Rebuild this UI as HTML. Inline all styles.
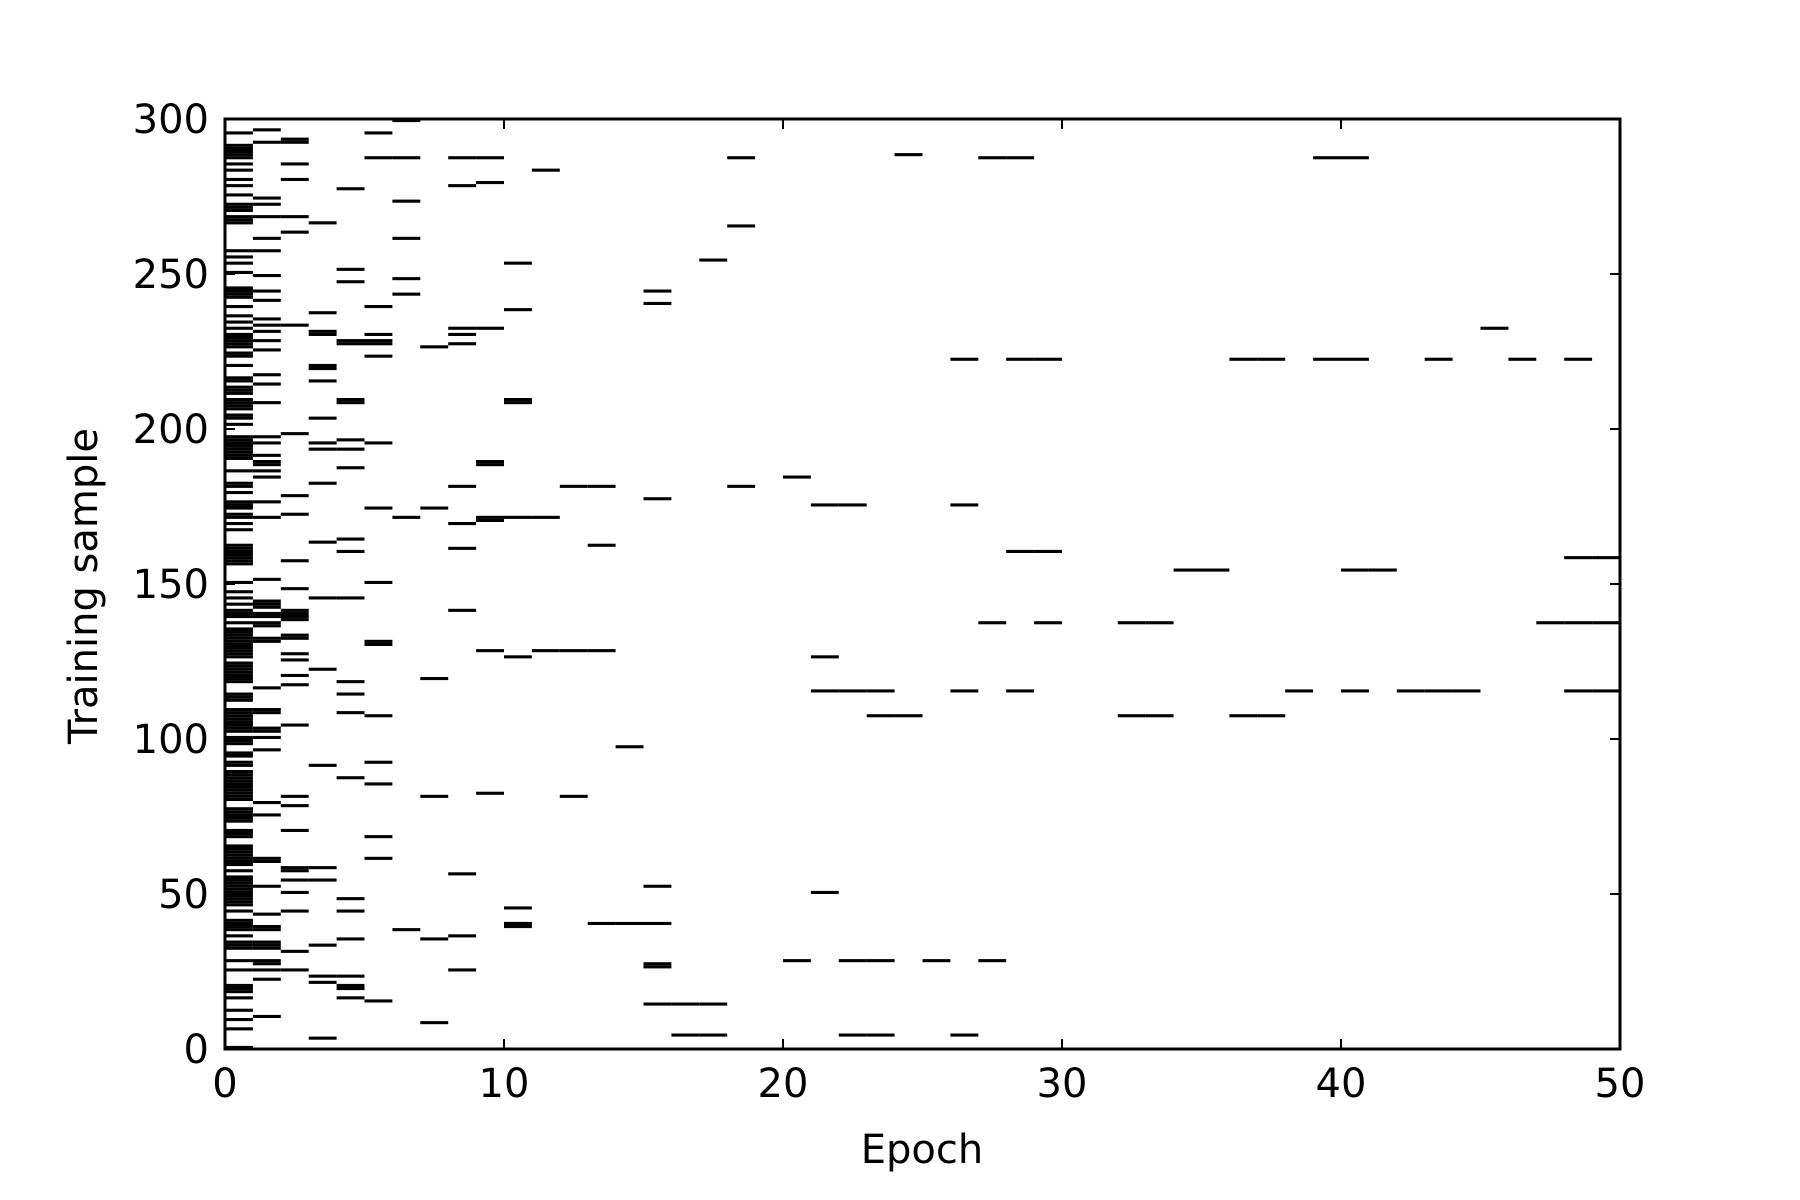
<!DOCTYPE html>
<html><head><meta charset="utf-8"><style>
html,body{margin:0;padding:0;background:#fff;}
svg{display:block;}
text{font-family:"DejaVu Sans","Liberation Sans",sans-serif;fill:#000;}
</style></head><body>
<svg id="chart" width="1800" height="1200" viewBox="0 0 1800 1200" xmlns="http://www.w3.org/2000/svg">
<rect width="1800" height="1200" fill="#fff"/>
<g id="cells"></g>
<g id="axes"></g>
<text x="922" y="1163" font-size="40" text-anchor="middle">Epoch</text>
<text x="0" y="0" font-size="40" text-anchor="middle" transform="translate(97,586) rotate(-90)">Training sample</text>
</svg>
<script>
const epochs = [];
for (let i = 0; i < 50; i++) epochs.push(i);
const samplesByEpoch = [
[295,287,288,289,290,291,285,283,280,278,275,270,271,272,266,267,268,257,255,253,250,242,243,244,245,239,236,234,232,226,227,228,229,230,224,223,220,216,215,211,212,213,207,208,209,206,204,203,201,190,191,192,193,194,195,196,197,186,181,182,179,174,175,176,172,171,169,167,160,161,162,157,158,159,156,150,147,143,141,139,137,134,132,130,128,145,140,135,133,126,127,129,131,121,122,123,124,118,119,120,113,114,112,103,104,105,106,107,108,109,102,98,99,100,94,95,91,92,83,84,85,86,87,88,89,80,81,82,73,74,75,76,77,68,69,70,62,63,64,65,59,60,61,57,55,51,52,53,54,46,47,48,49,50,44,41,38,39,40,36,32,33,34,28,25,18,19,20,16,12,9,6,0],
[296,292,274,272,268,261,257,249,244,241,235,233,231,228,225,217,214,208,197,195,191,188,189,186,184,176,171,151,143,139,136,131,144,142,140,137,132,116,108,109,102,103,100,96,79,75,60,61,52,43,39,38,33,34,32,27,28,25,22,10],
[292,293,285,280,268,263,233,198,178,172,157,148,138,139,132,140,141,133,127,125,120,117,104,81,78,70,57,58,54,50,44,31,25],
[266,237,230,231,219,220,215,203,195,193,182,163,145,122,91,58,54,33,23,21,3],
[277,251,247,228,227,208,209,196,193,187,164,160,145,118,114,108,87,48,44,35,23,19,20,16],
[295,287,239,230,227,228,223,195,174,150,130,131,107,92,85,68,61,15],
[299,287,273,261,248,243,171,38],
[226,174,119,81,35,8],
[287,278,232,230,227,181,169,161,141,56,36,25],
[287,279,232,188,189,170,171,128,82],
[253,238,208,209,171,126,45,39,40],
[283,171,128],
[181,128,81],
[181,162,128,40],
[97,40],
[244,240,177,52,40,26,27,14],
[14,4],
[254,14,4],
[287,265,181],
[],
[184,28],
[175,126,115,50],
[175,115,28,4],
[115,107,28,4],
[288,107],
[28],
[222,175,115,4],
[287,137,28],
[287,222,160,115],
[222,160,137],
[],
[],
[137,107],
[137,107],
[154],
[154],
[222,107],
[222,107],
[115],
[287,222],
[287,222,154,115],
[154],
[115],
[222,115],
[115],
[232],
[222],
[137],
[222,158,137,115],
[158,137,115]
];
const xTicks = [0,10,20,30,40,50];
const yTicks = [0,50,100,150,200,250,300];

const L=225, R=1620, T=119, B=1049;
const xMax=50, yMax=300;
function xs(v){return L+(v/xMax)*(R-L);}
function ys(v){return B-(v/yMax)*(B-T);}
const NS="http://www.w3.org/2000/svg";
const cells=document.getElementById('cells');
epochs.forEach(function(e){
  (samplesByEpoch[e]||[]).forEach(function(s){
    const r=document.createElementNS(NS,'rect');
    r.setAttribute('x',xs(e));
    r.setAttribute('y',ys(s+1));
    r.setAttribute('width',xs(e+1)-xs(e));
    r.setAttribute('height',ys(s)-ys(s+1));
    r.setAttribute('fill','#000');
    
    
    cells.appendChild(r);
  });
});
const axes=document.getElementById('axes');
function line(x1,y1,x2,y2,w,name){
  const l=document.createElementNS(NS,'line');
  l.setAttribute('x1',x1);l.setAttribute('y1',y1);l.setAttribute('x2',x2);l.setAttribute('y2',y2);
  l.setAttribute('stroke','#000');l.setAttribute('stroke-width',w);
  
  
  axes.appendChild(l);
}
function text(x,y,str,anchor,name){
  const t=document.createElementNS(NS,'text');
  t.setAttribute('x',x);t.setAttribute('y',y);t.setAttribute('font-size','40');
  t.setAttribute('text-anchor',anchor);
  t.textContent=str;
  
  
  axes.appendChild(t);
}
xTicks.forEach(function(v){
  const x=xs(v);
  line(x,B,x,B-10,2,'x-tick');
  line(x,T,x,T+10,2,'x-tick-top');
  text(x,B+48,String(v),'middle','x-tick-label');
});
yTicks.forEach(function(v){
  const y=ys(v);
  line(L,y,L+10,y,2,'y-tick');
  line(R,y,R-10,y,2,'y-tick-right');
  text(L-16,y+14,String(v),'end','y-tick-label');
});
const fr=document.createElementNS(NS,'rect');
fr.setAttribute('x',L);fr.setAttribute('y',T);fr.setAttribute('width',R-L);fr.setAttribute('height',B-T);
fr.setAttribute('fill','none');fr.setAttribute('stroke','#000');fr.setAttribute('stroke-width','3');


axes.appendChild(fr);
</script>
</body></html>
